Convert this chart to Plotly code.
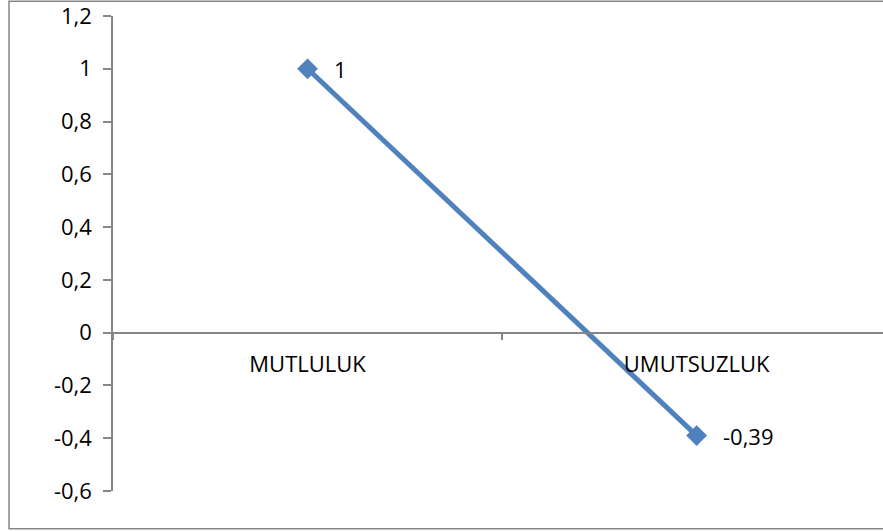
import plotly.graph_objects as go

categories = ["MUTLULUK", "UMUTSUZLUK"]
values = [1, -0.39]
labels = ["1", "-0,39"]
ytick_vals = [-0.6, -0.4, -0.2, 0, 0.2, 0.4, 0.6, 0.8, 1, 1.2]
ytick_text = ["-0,6", "-0,4", "-0,2", "0", "0,2", "0,4", "0,6", "0,8", "1", "1,2"]

axis_gray = "#868686"
font = dict(family="Open Sans, Noto Sans, sans-serif", size=22, color="#000000")

fig = go.Figure()
fig.add_trace(go.Scatter(
    x=categories, y=values, mode="lines+markers",
    line=dict(color="#4F81BD", width=5),
    marker=dict(symbol="diamond", size=16, color="#4F81BD"),
    cliponaxis=False, showlegend=False, hoverinfo="skip",
))

for c, v, t in zip(categories, values, labels):
    fig.add_annotation(x=c, y=v, text=t, showarrow=False, xanchor="left",
                       yanchor="middle", xshift=24, font=font)

fig.update_layout(
    width=883, height=531,
    margin=dict(l=113, r=0, t=16, b=40),
    paper_bgcolor="white", plot_bgcolor="white",
    font=font,
    xaxis=dict(
        type="category", range=[-0.5, 1.479],
        anchor="free", position=1/3,
        showline=True, linecolor=axis_gray, linewidth=1.5,
        ticks="outside", tickson="boundaries", ticklen=7, tickwidth=1.5, tickcolor=axis_gray,
        showgrid=False, zeroline=False,
        ticklabelstandoff=12, ticklabeloverflow="allow",
        tickfont=font,
    ),
    yaxis=dict(
        range=[-0.6, 1.2], tickvals=ytick_vals, ticktext=ytick_text,
        showline=True, linecolor=axis_gray, linewidth=1.5,
        ticks="outside", ticklen=8, tickwidth=1.5, tickcolor=axis_gray,
        showgrid=False, zeroline=False,
        ticklabelstandoff=7, ticklabeloverflow="allow",
        tickfont=font,
    ),
    shapes=[dict(
        type="rect", xref="paper", yref="paper",
        x0=(9 - 113) / 770, x1=1.02,
        y0=(491.3 - 529) / 475.6, y1=(491.3 - 1) / 475.6,
        line=dict(color=axis_gray, width=1.5), fillcolor="rgba(0,0,0,0)",
        layer="below",
    )],
)

fig.write_html("out.html")
